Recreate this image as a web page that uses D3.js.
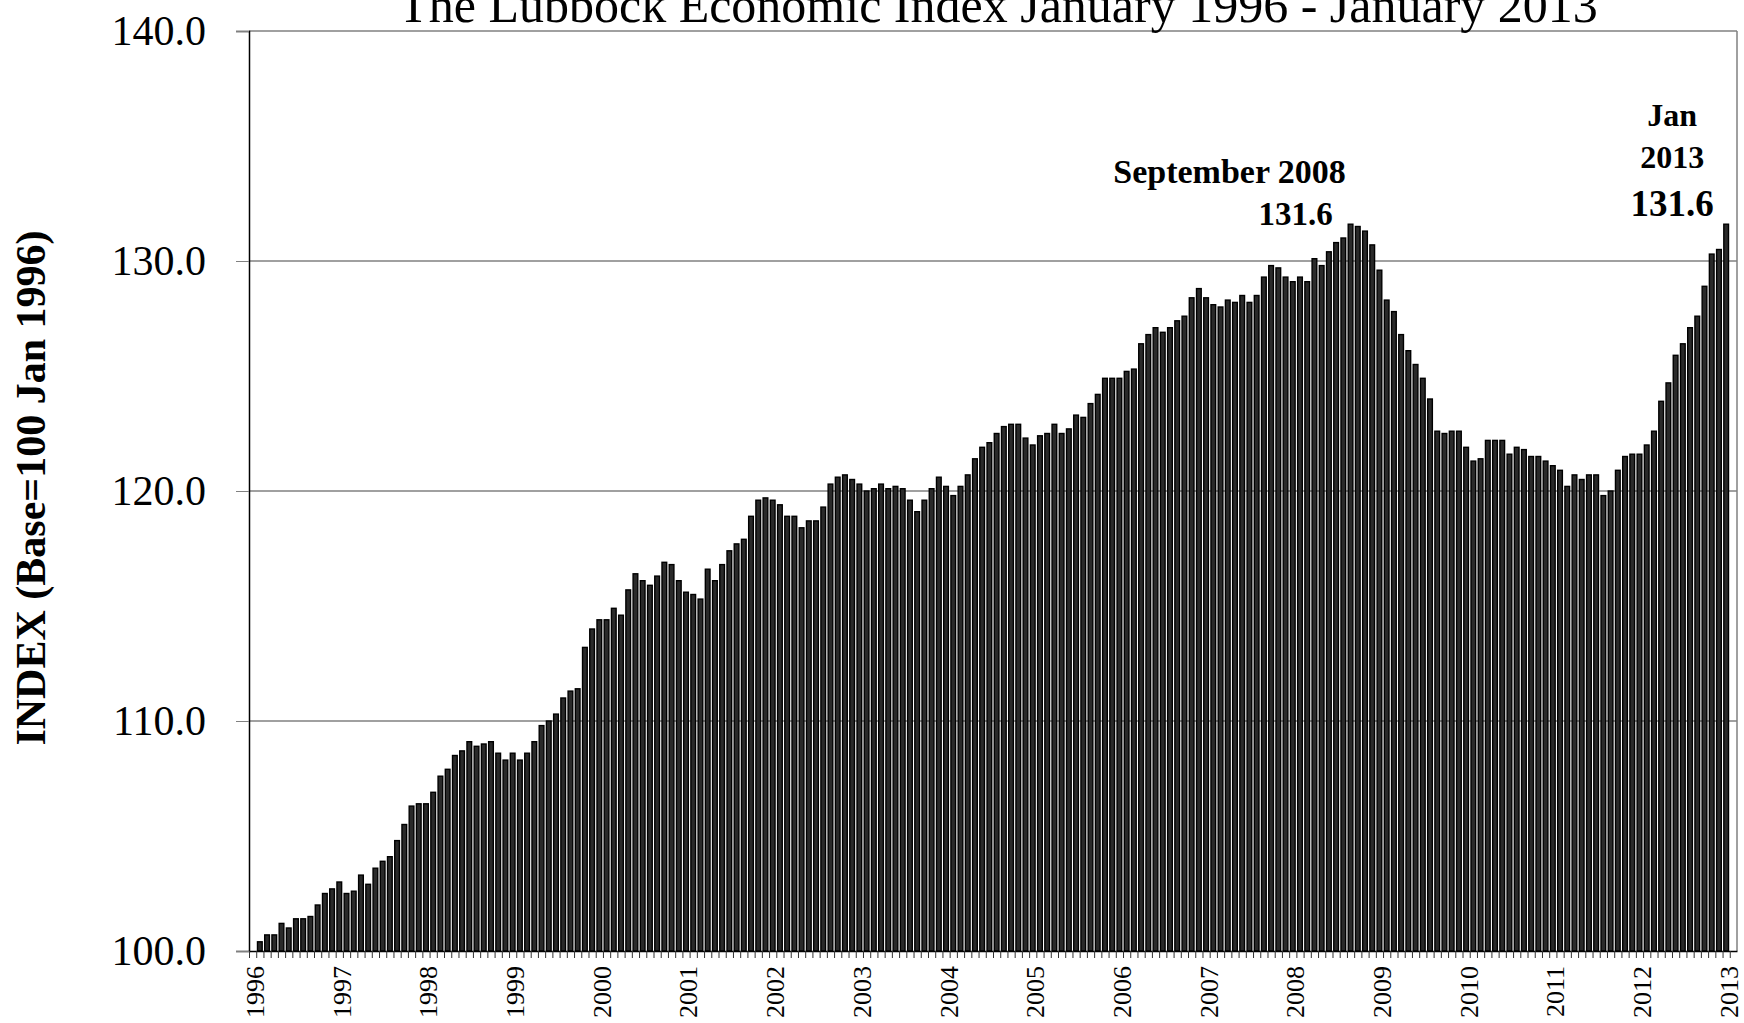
<!DOCTYPE html>
<meta charset="utf-8">
<script src="https://d3js.org/d3.v7.min.js"></script>
<style>
  body { margin: 0; background: #fff; }
  text { font-family: "Liberation Serif", "Times New Roman", serif; }
</style>
<div id="chart"></div>
<script>
// monthly index values, Jan of each year first
var idx1996 = [100.0, 100.4, 100.7, 100.7, 101.2, 101.0, 101.4, 101.4, 101.5, 102.0, 102.5, 102.7];
var idx1997 = [103.0, 102.5, 102.6, 103.3, 102.9, 103.6, 103.9, 104.1, 104.8, 105.5, 106.3, 106.4];
var idx1998 = [106.4, 106.9, 107.6, 107.9, 108.5, 108.7, 109.1, 108.9, 109.0, 109.1, 108.6, 108.3];
var idx1999 = [108.6, 108.3, 108.6, 109.1, 109.8, 110.0, 110.3, 111.0, 111.3, 111.4, 113.2, 114.0];
var idx2000 = [114.4, 114.4, 114.9, 114.6, 115.7, 116.4, 116.1, 115.9, 116.3, 116.9, 116.8, 116.1];
var idx2001 = [115.6, 115.5, 115.3, 116.6, 116.1, 116.8, 117.4, 117.7, 117.9, 118.9, 119.6, 119.7];
var idx2002 = [119.6, 119.4, 118.9, 118.9, 118.4, 118.7, 118.7, 119.3, 120.3, 120.6, 120.7, 120.5];
var idx2003 = [120.3, 120.0, 120.1, 120.3, 120.1, 120.2, 120.1, 119.6, 119.1, 119.6, 120.1, 120.6];
var idx2004 = [120.2, 119.8, 120.2, 120.7, 121.4, 121.9, 122.1, 122.5, 122.8, 122.9, 122.9, 122.3];
var idx2005 = [122.0, 122.4, 122.5, 122.9, 122.5, 122.7, 123.3, 123.2, 123.8, 124.2, 124.9, 124.9];
var idx2006 = [124.9, 125.2, 125.3, 126.4, 126.8, 127.1, 126.9, 127.1, 127.4, 127.6, 128.4, 128.8];
var idx2007 = [128.4, 128.1, 128.0, 128.3, 128.2, 128.5, 128.2, 128.5, 129.3, 129.8, 129.7, 129.3];
var idx2008 = [129.1, 129.3, 129.1, 130.1, 129.8, 130.4, 130.8, 131.0, 131.6, 131.5, 131.3, 130.7];
var idx2009 = [129.6, 128.3, 127.8, 126.8, 126.1, 125.5, 124.9, 124.0, 122.6, 122.5, 122.6, 122.6];
var idx2010 = [121.9, 121.3, 121.4, 122.2, 122.2, 122.2, 121.6, 121.9, 121.8, 121.5, 121.5, 121.3];
var idx2011 = [121.1, 120.9, 120.2, 120.7, 120.5, 120.7, 120.7, 119.8, 120.0, 120.9, 121.5, 121.6];
var idx2012 = [121.6, 122.0, 122.6, 123.9, 124.7, 125.9, 126.4, 127.1, 127.6, 128.9, 130.3, 130.5];
var idx2013 = [131.6];

var yearLabels = ["1996", "1997", "1998", "1999", "2000", "2001", "2002", "2003", "2004",
  "2005", "2006", "2007", "2008", "2009", "2010", "2011", "2012", "2013"];
var yTicks = [100, 110, 120, 130, 140];

var values = [].concat(idx1996, idx1997, idx1998, idx1999, idx2000, idx2001, idx2002, idx2003,
  idx2004, idx2005, idx2006, idx2007, idx2008, idx2009, idx2010, idx2011, idx2012, idx2013);

var margin = {top: 31, right: 7, bottom: 72, left: 249},
    width = 1744 - margin.left - margin.right,
    height = 1023 - margin.top - margin.bottom;

var svg = d3.select("#chart")
  .append("svg")
    .attr("width", 1744)
    .attr("height", 1023)
  .append("g")
    .attr("transform", "translate(" + margin.left + "," + margin.top + ")");

// one extra empty slot at the right end, like the original
var nSlots = values.length + 1;
var x = d3.scaleBand()
  .domain(d3.range(nSlots))
  .range([0, width])
  .paddingInner(0.35)
  .paddingOuter(0.175);

var y = d3.scaleLinear()
  .domain([100, 140])
  .range([height, 0]);

// gridlines
svg.append("g")
  .selectAll("line")
  .data(yTicks.slice(1))
  .enter()
  .append("line")
    .attr("x1", 0).attr("x2", width)
    .attr("y1", function(d){ return y(d); })
    .attr("y2", function(d){ return y(d); })
    .style("stroke", "#808080")
    .style("stroke-width", 1.3);

// right border
svg.append("line")
  .attr("x1", width).attr("x2", width)
  .attr("y1", 0).attr("y2", height)
  .style("stroke", "#808080").style("stroke-width", 1.5);

// bars
svg.append("g")
  .selectAll("rect")
  .data(values)
  .enter()
  .append("rect")
    .attr("x", function(d, i){ return x(i); })
    .attr("width", x.bandwidth())
    .attr("y", function(d){ return y(d); })
    .attr("height", function(d){ return height - y(d); })
    .style("fill", "#2a2a2a")
    .style("stroke", "#000")
    .style("stroke-width", 1.4);

// y axis
var yAxis = svg.append("g")
  .call(d3.axisLeft(y).tickValues(yTicks).tickFormat(d3.format(".1f")).tickSize(13).tickPadding(30));
yAxis.select(".domain").style("stroke", "#000").style("stroke-width", 1.5);
yAxis.selectAll(".tick line").style("stroke", "#808080");
yAxis.selectAll("text").style("font-size", "42px").style("font-family", "Liberation Serif").attr("fill", "#000");

// x axis: small tick at every month boundary
var xEdges = d3.scaleLinear().domain([0, nSlots]).range([0, width]);
var xAxis = svg.append("g")
  .attr("transform", "translate(0," + height + ")")
  .call(d3.axisBottom(xEdges).tickValues(d3.range(0, nSlots)).tickFormat("").tickSize(7).tickSizeOuter(0));
xAxis.select(".domain").style("stroke", "#000").style("stroke-width", 1.5);
xAxis.selectAll(".tick line").style("stroke", "#333");

// year labels at each January
var janIdx = yearLabels.map(function(d, i){ return i * 12; });
var yearAxis = svg.append("g")
  .attr("transform", "translate(" + (x.bandwidth() / 2) + "," + height + ")")
  .call(d3.axisBottom(x).tickValues(janIdx)
    .tickFormat(function(d){ return yearLabels[d / 12]; }).tickSize(0));
yearAxis.select(".domain").remove();
yearAxis.selectAll("text")
  .attr("transform", "rotate(-90)")
  .attr("x", -15)
  .attr("y", 0)
  .attr("dy", "0.35em")
  .style("text-anchor", "end")
  .style("font-size", "26px")
  .style("font-family", "Liberation Serif")
  .attr("fill", "#000");

// title (cut by the top edge, as in the original)
svg.append("text")
  .attr("x", 749)
  .attr("y", -9)
  .style("text-anchor", "middle")
  .style("font-size", "50px")
  .text("The Lubbock Economic Index January 1996 - January 2013");

// y label
svg.append("text")
  .attr("transform", "translate(" + (45 - margin.left) + "," + (height / 2 - 3) + ") rotate(-90)")
  .style("text-anchor", "middle")
  .style("font-size", "42px")
  .style("font-weight", "bold")
  .text("INDEX (Base=100 Jan 1996)");

// annotations
var peakIdx = 152, lastIdx = values.length - 1;
var peakX = x(peakIdx) + x.bandwidth() / 2, lastX = x(lastIdx) + x.bandwidth() / 2;

svg.append("text")
  .attr("x", peakX - 121).attr("y", y(values[peakIdx]) - 41)
  .style("text-anchor", "middle").style("font-size", "34px").style("font-weight", "bold")
  .text("September 2008");
svg.append("text")
  .attr("x", peakX - 55).attr("y", y(values[peakIdx]) + 1)
  .style("text-anchor", "middle").style("font-size", "33px").style("font-weight", "bold")
  .text(values[peakIdx].toFixed(1));

svg.append("text")
  .attr("x", lastX - 54).attr("y", y(values[lastIdx]) - 98)
  .style("text-anchor", "middle").style("font-size", "32px").style("font-weight", "bold")
  .text("Jan");
svg.append("text")
  .attr("x", lastX - 54).attr("y", y(values[lastIdx]) - 56)
  .style("text-anchor", "middle").style("font-size", "32px").style("font-weight", "bold")
  .text("2013");
svg.append("text")
  .attr("x", lastX - 54).attr("y", y(values[lastIdx]) - 8)
  .style("text-anchor", "middle").style("font-size", "37px").style("font-weight", "bold")
  .text(values[lastIdx].toFixed(1));
</script>
